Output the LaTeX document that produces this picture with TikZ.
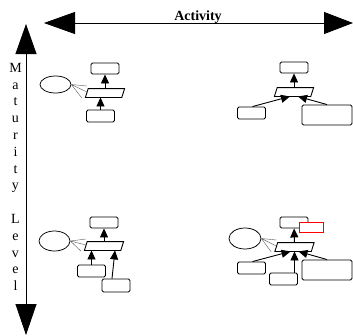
\documentclass[tikz,border=0pt]{standalone}
\usepackage{fontspec}
\setmainfont{Liberation Serif}
\usetikzlibrary{arrows.meta, shapes.geometric}
\newcommand{\slantbox}[1]{\draw ([xshift=-1.4pt]#1.south west) -- ([xshift=-1.4pt]#1.south east)
  -- ([xshift=1.4pt]#1.north east) -- ([xshift=1.4pt]#1.north west) -- cycle;}

\begin{document}
\begin{tikzpicture}[x=1pt, y=-1pt, line width=0.9pt,
  every node/.style={font=\fontsize{14}{16}\selectfont},
  box/.style={draw, rounded corners=1.5pt, minimum width=28pt, minimum height=11pt, inner sep=0pt},
  bigbox/.style={box, minimum width=50pt, minimum height=20pt},
  slant/.style={minimum width=35.5pt, minimum height=8pt, inner sep=0pt},
  blob/.style={draw, ellipse, line width=0.75pt, inner sep=0pt},
  link/.style={-{Triangle[length=9pt, width=8pt]}},
  fan/.style={draw=black!65, line width=0.4pt}]
  \useasboundingbox (0,0) rectangle (353,335);

  \coordinate (actleft) at (44,23);
  \coordinate (actright) at (353,23);
  \coordinate (lvltop) at (26,24);
  \coordinate (lvlbot) at (26,335);
  \draw[line width=0.8pt, {Triangle[length=31pt, width=22pt]}-{Triangle[length=29pt, width=22pt]}] (actleft) -- (actright);
  \draw[line width=0.8pt, {Triangle[length=30pt, width=21pt]}-{Triangle[length=31pt, width=21pt]}] (lvltop) -- (lvlbot);
  \node[font=\fontsize{14}{16}\selectfont\bfseries, anchor=base] (acttitle) at (198,20.5) {Activity};
  \node[align=center, font=\fontsize{14}{16.8}\selectfont] (lvltitle) at (15.5,177)
    {M\\a\\t\\u\\r\\i\\t\\y\\[16.8pt]L\\e\\v\\e\\l};

  % top left
  \node[box] (tltop) at (105,68.5) {};
  \node[slant] (tlmid) at (105,93) {};
  \slantbox{tlmid}
  \node[box, minimum height=12pt] (tlbot) at (100.5,116) {};
  \node[blob, minimum width=31pt, minimum height=17pt] (tlell) at (55.5,84.5) {};
  \draw[link] (tlbot.north) -- (tlbot.north |- tlmid.south);
  \draw[link] (tlmid) -- (tltop);
  \draw[fan] (tlell.east) -- ([shift={(0,-7)}]tlmid.west)
    (tlell.east) -- ([shift={(0,-1)}]tlmid.west)
    (tlell.east) -- ([shift={(-5,5)}]tlmid.west);

  % top right
  \node[box] (trtop) at (294,67.5) {};
  \node[slant] (trmid) at (294,92) {};
  \slantbox{trmid}
  \node[box, minimum height=12pt] (trleft) at (251.5,113) {};
  \node[bigbox] (trright) at (327,115) {};
  \draw[link] (trmid) -- (trtop);
  \draw[link] ([xshift=1pt]trleft.north) -- ([xshift=-4pt]trmid.south);
  \draw[link] (trright.north) -- ([xshift=4pt]trmid.south);

  % bottom left
  \node[box] (bltop) at (104,222.5) {};
  \node[slant] (blmid) at (104,246) {};
  \slantbox{blmid}
  \node[blob, minimum width=31pt, minimum height=20pt] (blell) at (54.5,241) {};
  \node[box, minimum height=12pt] (blbota) at (91.5,271) {};
  \node[box, minimum height=13pt] (blbotb) at (116,285.5) {};
  \draw[link] (blmid) -- (bltop);
  \draw[link] (blbota.north) -- (blbota.north |- blmid.south);
  \draw[link] ([xshift=-4pt]blbotb.north) -- ([xshift=11pt]blmid.south);
  \draw[fan] (blell.east) -- ([shift={(0,-7)}]blmid.west)
    (blell.east) -- ([shift={(0,-1)}]blmid.west)
    (blell.east) -- ([shift={(-5,5)}]blmid.west);

  % bottom right
  \node[box] (brtop) at (294,222.5) {};
  \node[box, draw=red, fill=white, rounded corners=0pt, line width=0.8pt,
    minimum width=24pt, minimum height=10pt] (brnew) at (311,227) {};
  \node[slant] (brmid) at (294.5,247) {};
  \slantbox{brmid}
  \node[blob, minimum width=32pt, minimum height=21pt] (brell) at (245,238.5) {};
  \node[box, minimum height=12pt] (brleft) at (251.5,268) {};
  \node[box, minimum height=12pt] (brcen) at (283.5,279) {};
  \node[bigbox] (brright) at (327,270) {};
  \draw[link] (brmid) -- (brtop);
  \draw[link] ([xshift=1pt]brleft.north) -- ([xshift=-4pt]brmid.south);
  \draw[link] ([xshift=11pt]brcen.north) -- ([xshift=11pt]brcen.north |- brmid.south);
  \draw[link] (brright.north) -- ([xshift=4pt]brmid.south);
  \draw[fan] (brell.east) -- ([shift={(0,-7)}]brmid.west)
    (brell.east) -- ([shift={(0,-1)}]brmid.west)
    (brell.east) -- ([shift={(-5,5)}]brmid.west);
\end{tikzpicture}
\end{document}
